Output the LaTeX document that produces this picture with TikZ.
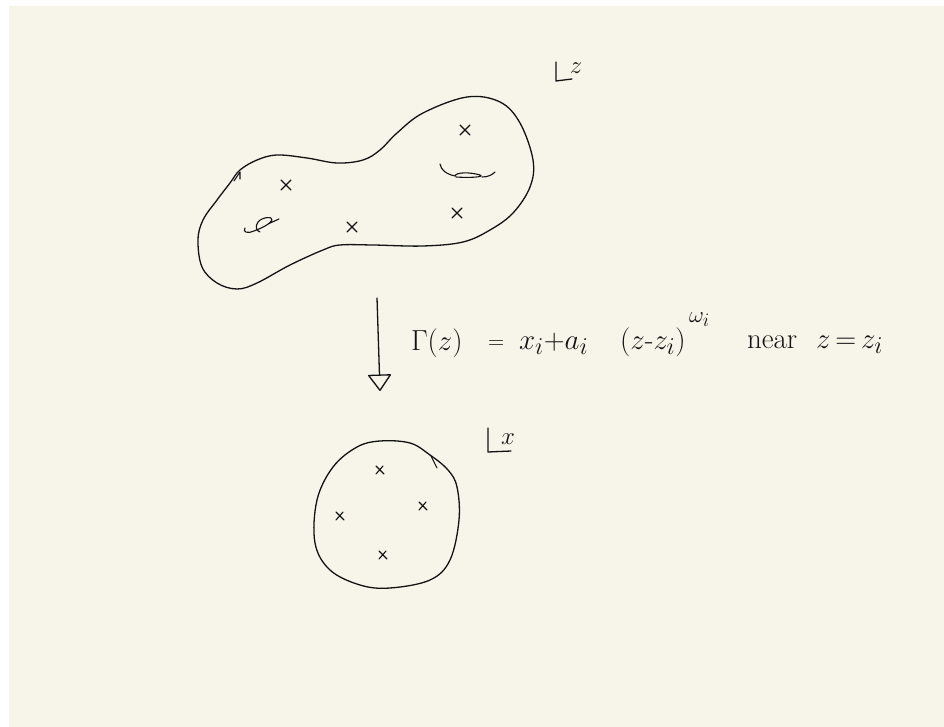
\documentclass[tikz,border=0pt]{standalone}
\usepackage{graphicx}
\usetikzlibrary{arrows.meta}
\definecolor{paper}{RGB}{247,245,234}
\definecolor{ink}{RGB}{18,18,18}
\newcommand\hwbig[1]{\scalebox{1.166}{#1}}
\newcommand\hwsup[1]{\scalebox{0.92}{#1}}
\begin{document}
\begin{tikzpicture}[x=1pt,y=-1pt,
  inkline/.style={draw=ink, line width=1.3pt, line cap=round, line join=round},
  lbl/.style={inner sep=0pt, outer sep=0pt, text=ink, font=\Huge, anchor=base west},
  corner/.style={inner sep=0pt, outer sep=0pt, text=ink, font=\Huge},
  crs/.pic={\draw[inkline] (-5,-5)--(5,5) (-5,5)--(5,-5);},
  scrs/.pic={\draw[inkline, line width=1.1pt] (-4,-4)--(4,4) (-4,4)--(3,-4);}]
\useasboundingbox (0,0) rectangle (944,727);
\fill[white] (0,0) rectangle (944,727);
\fill[paper] (9,6) rectangle (944,727);

% top region (z-plane)
\draw[inkline] plot[smooth cycle, tension=0.6] coordinates {
 (467,97) (500,102) (520,123) (533,160) (530,187) (513,213) (490,230) (463,242)
 (423,246) (373,245) (340,245) (323,250) (290,265) (257,283) (237,289) (217,283)
 (202,267) (198,240) (203,220) (217,200) (230,183) (240,170) (257,160) (277,155)
 (307,158) (337,163) (363,160) (380,150) (397,133) (423,113)};
% orientation tick
\draw[inkline, line width=1.1pt] (234,181) -- (240,172) -- (240,179);

\pic at (286,185) {crs};
\pic at (352,227) {crs};
\pic at (465,130) {crs};
\pic at (457,213) {crs};

% small loop (left)
\draw[inkline, line width=1.1pt] (245,228) .. controls (242,232) and (248,234) .. (254,231)
  .. controls (262,228) and (270,224) .. (272,220)
  .. controls (273,216) and (262,217) .. (258,222)
  .. controls (255,226) and (256,231) .. (260,232)
  (268,224) -- (279,219);
% hook (right)
\draw[inkline, line width=1.1pt] (440,164) .. controls (441,170) and (446,174) .. (455,176)
  .. controls (456,172) and (470,172) .. (480,175)
  .. controls (485,177) and (470,178) .. (456,177)
  (482,177) .. controls (488,177) and (492,175) .. (495,172);

% z label
\draw[inkline] (556,62) -- (556,81) -- (572,79);
\node[corner] (zlabel) at (576,68) {$z$};

% map arrow
\coordinate (atop) at (377,298);
\coordinate (abot) at (380,391);
\draw[inkline, -{Triangle[open, length=17pt, width=24pt, line join=round]}] (atop) -- (abot);

% formula
\node[lbl] (f1) at (411,350) {\hwbig{$\Gamma(z)$}};
\node[lbl] (f2) at (488,348) {\scalebox{0.9}{$=$}};
\node[lbl] (f3) at (519,349) {\hwbig{$x_i{+}a_i$}};
\node[lbl] (f4) at (620,349) {\hwbig{$(z\mbox{-}z_i)$}};
\node[lbl] (f5) at (689,322) {\hwsup{$\omega_i$}};
\node[lbl] (f6) at (747,348) {\hwbig{near}};
\node[lbl] (f7) at (816,348) {\hwbig{$z{\,=\,}z_i$}};

% bottom region (x-plane)
\draw[inkline] plot[smooth cycle, tension=0.6] coordinates {
 (380,441) (410,443) (430,455) (448,470) (457,487) (459,520) (450,560) (430,580)
 (390,588) (360,585) (330,570) (315,543) (317,500) (333,467) (357,447)};
\draw[inkline, line width=1.1pt] (431,456) -- (437,468);

\pic at (380,470) {scrs};
\pic at (423,506) {scrs};
\pic at (340,516) {scrs};
\pic at (383,555) {scrs};

% x label
\draw[inkline] (488,428) -- (488,452) -- (511,451);
\node[corner] (xlabel) at (508,439) {$x$};
\end{tikzpicture}
\end{document}
